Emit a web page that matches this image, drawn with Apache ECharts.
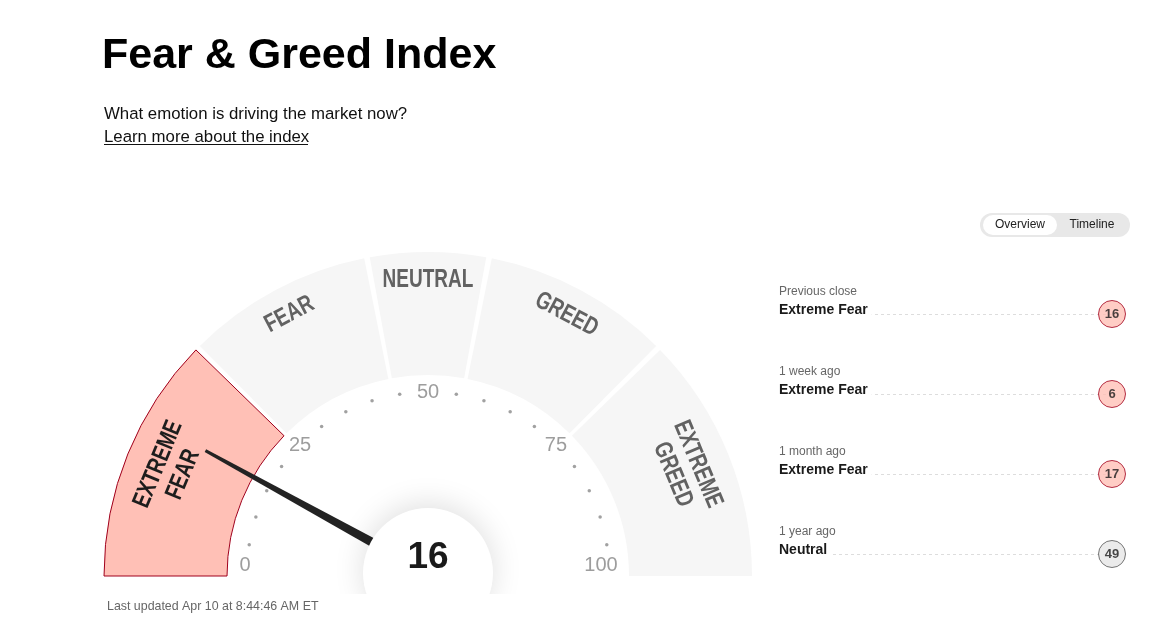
<!DOCTYPE html>
<html>
<head>
<meta charset="utf-8">
<script src="https://cdn.jsdelivr.net/npm/echarts@6/dist/echarts.min.js"></script>
<style>
html,body{margin:0;padding:0;background:#fff;}
#chart{width:1164px;height:641px;}
</style>
</head>
<body>
<div id="chart"></div>
<script>
// ---- data ----
const currentValue = 16;
const zoneNames = ['EXTREME\nFEAR', 'FEAR', 'NEUTRAL', 'GREED', 'EXTREME\nGREED'];
const zoneBounds = [0, 25, 44, 56, 75, 100];
const tickLabels = [0, 25, 50, 75, 100];
const dotValues = [5, 10, 15, 20, 30, 35, 40, 45, 55, 60, 65, 70, 80, 85, 90, 95];
const historyPeriods = ['Previous close', '1 week ago', '1 month ago', '1 year ago'];
const historyRatings = ['Extreme Fear', 'Extreme Fear', 'Extreme Fear', 'Neutral'];
const historyValues = [16, 6, 17, 49];

// ---- styles ----
const FONT = "'Liberation Sans', Arial, Helvetica, sans-serif";
const PAD = 1;
const ratingStyle = {
  'Extreme Fear': { color: '#ffc0b6', borderColor: '#a0001c' },
  'Fear': { color: '#ffc0b6', borderColor: '#a0001c' },
  'Neutral': { color: '#e6e6e6', borderColor: '#555555' },
  'Greed': { color: '#c8ecd3', borderColor: '#1d7a3c' },
  'Extreme Greed': { color: '#c8ecd3', borderColor: '#1d7a3c' }
};

const zoneSpans = zoneNames.map((n, i) => zoneBounds[i + 1] - zoneBounds[i]);
const zoneMids = zoneNames.map((n, i) => (zoneBounds[i] + zoneBounds[i + 1]) / 2);
let activeZone = zoneNames.length - 1;
for (let i = 0; i < zoneNames.length; i++) {
  if (currentValue < zoneBounds[i + 1]) { activeZone = i; break; }
}

const bandCenter = [428, 576];
const dialCenter = [428, 573];

const chart = echarts.init(document.getElementById('chart'), null, { renderer: 'canvas' });

const hiddenAxis = { axisLine: { show: false }, axisTick: { show: false }, axisLabel: { show: false }, splitLine: { show: false } };

const option = {
  animation: false,
  backgroundColor: '#ffffff',
  title: [
    { text: 'Fear & Greed Index', left: 102, top: 35, padding: 0,
      textStyle: { fontFamily: FONT, fontSize: 43, fontWeight: 'bold', color: '#000', lineHeight: 43 } },
    { text: 'What emotion is driving the market now?', left: 104, top: 105, padding: 0,
      textStyle: { fontFamily: FONT, fontSize: 16.8, fontWeight: 'normal', color: '#111', lineHeight: 18 } },
    { text: 'Learn more about the index', left: 104, top: 128, padding: 0,
      textStyle: { fontFamily: FONT, fontSize: 16.8, fontWeight: 'normal', color: '#111', lineHeight: 18 } },
    { text: 'Last updated Apr 10 at 8:44:46 AM ET', left: 107, top: 600, padding: 0,
      textStyle: { fontFamily: FONT, fontSize: 12.4, fontWeight: 'normal', color: '#666', lineHeight: 14 } }
  ],
  graphic: [
    { type: 'line', shape: { x1: 104, y1: 144.5, x2: 308, y2: 144.5 }, style: { stroke: '#111', lineWidth: 1 } },
    { type: 'rect', shape: { x: 980, y: 213, width: 150, height: 24, r: 12 }, style: { fill: '#e8e8e8' } },
    { type: 'rect', shape: { x: 983, y: 215, width: 74, height: 20, r: 10 }, style: { fill: '#ffffff' } },
    { type: 'text', x: 1020, y: 225, style: { text: 'Overview', fontFamily: FONT, fontSize: 12, fill: '#222', align: 'center', verticalAlign: 'middle' } },
    { type: 'text', x: 1092, y: 225, style: { text: 'Timeline', fontFamily: FONT, fontSize: 12, fill: '#222', align: 'center', verticalAlign: 'middle' } },
    // the gauge container clips the halo of the centre disc
    { type: 'rect', z: 100, shape: { x: 330, y: 594, width: 200, height: 47 }, style: { fill: '#ffffff' } }
  ],
  polar: [
    { center: dialCenter, radius: 181 },
    { center: bandCenter, radius: 324 }
  ],
  angleAxis: [
    Object.assign({ polarIndex: 0, type: 'value', min: 0, max: 100, startAngle: 180, endAngle: 0, clockwise: true }, hiddenAxis),
    Object.assign({ polarIndex: 1, type: 'value', min: 0, max: 100, startAngle: 180, endAngle: 0, clockwise: true }, hiddenAxis)
  ],
  radiusAxis: [
    Object.assign({ polarIndex: 0, type: 'value', min: 0, max: 1 }, hiddenAxis),
    Object.assign({ polarIndex: 1, type: 'value', min: 0, max: 324 }, hiddenAxis)
  ],
  grid: { left: 779, right: 52, top: 314, bottom: 87 },
  xAxis: { type: 'value', min: 0, max: 1, show: false },
  yAxis: {
    type: 'category', data: historyPeriods, inverse: true, boundaryGap: false,
    axisLine: { show: false }, axisTick: { show: false },
    splitLine: { show: true, lineStyle: { color: '#dddddd', type: [3, 3], width: 1 } },
    axisLabel: {
      inside: true, margin: 0, interval: 0, align: 'left', verticalAlign: 'middle',
      formatter: (val, idx) => '{a|' + val + '}\n{b|' + historyRatings[idx] + '}\n{c|}',
      rich: {
        a: { fontFamily: FONT, fontSize: 12, color: '#666', lineHeight: 19 },
        b: { fontFamily: FONT, fontSize: 14, fontWeight: 'bold', color: '#1a1a1a', lineHeight: 18,
             backgroundColor: '#ffffff', padding: [0, 4, 0, 0] },
        c: { fontSize: 10, lineHeight: 27 }
      }
    }
  },
  series: [
    {
      type: 'pie', center: bandCenter, radius: [201, 324],
      startAngle: 180 + PAD / 2, endAngle: -PAD / 2, clockwise: true, padAngle: PAD,
      silent: true, z: 2, label: { show: false }, labelLine: { show: false },
      data: zoneNames.map((n, i) => ({
        name: n, value: zoneSpans[i],
        itemStyle: i === activeZone
          ? { color: '#ffc0b6', borderColor: '#a0001c', borderWidth: 1 }
          : { color: '#f6f6f6' }
      }))
    },
    {
      // zone names, written along the arc
      type: 'custom', coordinateSystem: 'polar', polarIndex: 1, silent: true, z: 3,
      data: zoneMids.map(m => [0, m]),
      renderItem: (params, api) => {
        const i = params.dataIndex;
        const twoLine = zoneNames[i].indexOf('\n') >= 0;
        const r = twoLine ? 278.5 : 296;
        const p = api.coord([r, api.value(1)]);
        const c = api.coord([0, api.value(1)]);
        const ang = Math.atan2(c[1] - p[1], p[0] - c[0]);
        return {
          type: 'text', x: p[0], y: p[1], rotation: ang - Math.PI / 2, scaleX: 0.76,
          style: {
            text: zoneNames[i], align: 'center', verticalAlign: 'middle',
            fontFamily: FONT, fontWeight: 'bold', fontSize: 25, lineHeight: 27,
            fill: i === activeZone ? '#1d1d1d' : '#626262'
          }
        };
      }
    },
    {
      type: 'scatter', coordinateSystem: 'polar', polarIndex: 0, silent: true, z: 3,
      symbol: 'circle', symbolSize: 3.5,
      itemStyle: { color: '#8a8a8a' },
      data: dotValues.map(v => [1, v])
    },
    {
      type: 'scatter', coordinateSystem: 'polar', polarIndex: 0, silent: true, z: 3,
      symbol: 'circle', symbolSize: 1,
      itemStyle: { color: 'rgba(0,0,0,0)' },
      label: {
        show: true, position: 'inside', formatter: p => String(p.value[1]),
        fontFamily: FONT, fontSize: 20, color: '#858585'
      },
      data: tickLabels.map((v, i) => {
        const item = { value: [1, v] };
        if (i === 0) item.label = { offset: [-2, -8] };
        if (i === tickLabels.length - 1) item.label = { offset: [-8, -8] };
        return item;
      })
    },
    {
      type: 'gauge', center: dialCenter, radius: 254, startAngle: 180, endAngle: 0,
      min: 0, max: 100, z: 5, silent: true,
      axisLine: { show: false }, axisTick: { show: false }, splitLine: { show: false }, axisLabel: { show: false },
      pointer: { show: true, icon: 'path://M4,0 L7,0 L11,100 L0,100 Z', length: '100%', width: 11,
                 offsetCenter: [0, 0], itemStyle: { color: '#232323' } },
      anchor: { show: false }, title: { show: false }, detail: { show: false },
      data: [{ value: currentValue }]
    },
    {
      type: 'pie', center: dialCenter, radius: [0, 65], silent: true, z: 6,
      labelLine: { show: false },
      itemStyle: { color: '#ffffff', shadowBlur: 30, shadowColor: 'rgba(0,0,0,0.13)', shadowOffsetY: -4 },
      label: {
        show: true, position: 'center',
        formatter: '{n|' + currentValue + '}\n{s|}',
        rich: {
          n: { fontFamily: FONT, fontSize: 37, fontWeight: 'bold', color: '#1a1a1a', lineHeight: 40 },
          s: { fontSize: 10, lineHeight: 30 }
        }
      },
      data: [{ value: 1, name: 'current' }]
    },
    {
      type: 'scatter', silent: true, z: 4,
      symbol: 'circle', symbolSize: 27,
      data: historyValues.map((v, i) => ({
        value: [1, i, v],
        itemStyle: { color: ratingStyle[historyRatings[i]].color, borderColor: ratingStyle[historyRatings[i]].borderColor, borderWidth: 1 }
      })),
      label: {
        show: true, position: 'inside', formatter: p => String(p.value[2]),
        fontFamily: FONT, fontSize: 13, fontWeight: 'bold', color: '#1a1a1a'
      }
    }
  ]
};
chart.setOption(option);
</script>
</body>
</html>
